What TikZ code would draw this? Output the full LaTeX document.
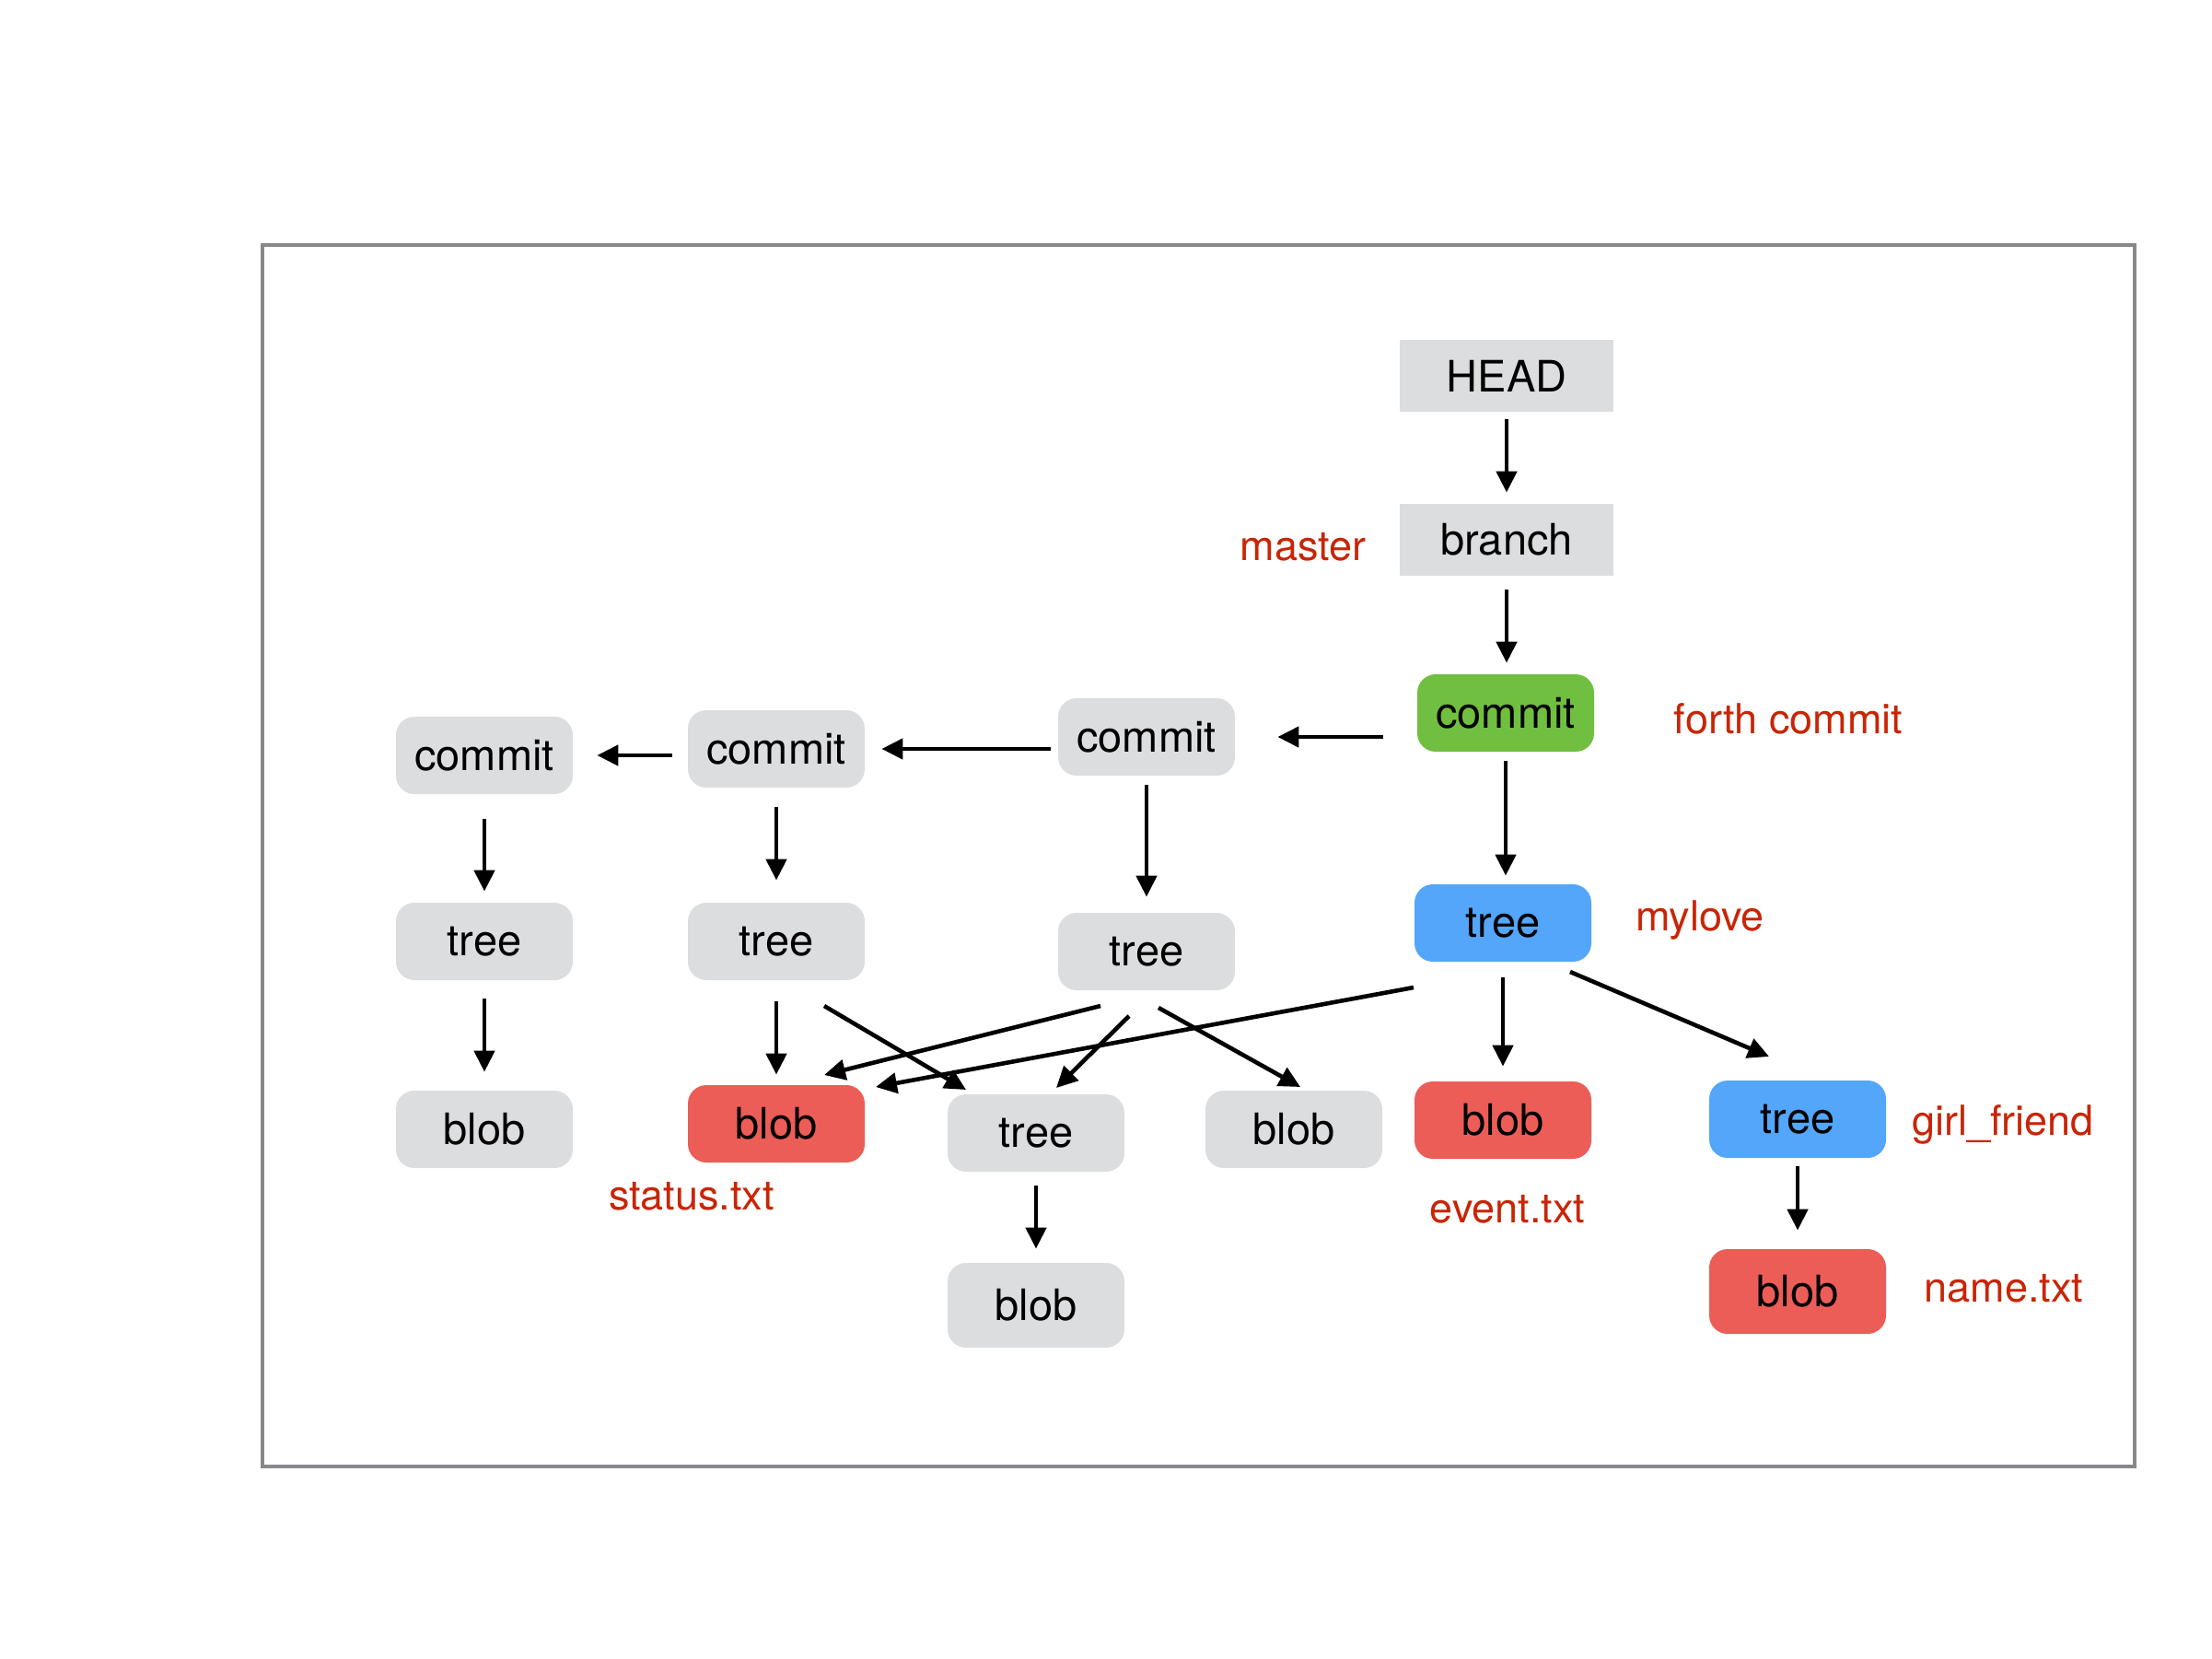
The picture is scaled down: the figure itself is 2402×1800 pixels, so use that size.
\documentclass[tikz,border=0pt]{standalone}
\usepackage{fontspec}
\setmainfont{TeX Gyre Heros}
\usetikzlibrary{calc,arrows.meta}
\definecolor{boxgray}{HTML}{DCDDDF}
\definecolor{boxgreen}{HTML}{70BF41}
\definecolor{boxblue}{HTML}{53A6F9}
\definecolor{boxred}{HTML}{EC5D57}
\definecolor{labred}{HTML}{C82506}
\definecolor{framegray}{HTML}{88888C}
\begin{document}
\begin{tikzpicture}[x=0.5pt,y=-0.5pt,
  obj/.style={rectangle, rounded corners=10pt, minimum width=96pt, minimum height=42pt,
    inner sep=0pt, text=black, font=\fontsize{23.5}{28}\selectfont},
  plainbox/.style={obj, fill=boxgray},
  greenbox/.style={obj, fill=boxgreen},
  bluebox/.style={obj, fill=boxblue},
  redbox/.style={obj, fill=boxred},
  refbox/.style={rectangle, fill=boxgray, minimum width=116pt, minimum height=39pt,
    inner sep=0pt, text=black, font=\fontsize{23.5}{28}\selectfont},
  lab/.style={anchor=base, inner sep=0pt, text=labred, font=\fontsize{22.5}{27}\selectfont},
  arr/.style={-{Triangle[length=11.5pt,width=11pt]}, line width=2.3pt},
]
\useasboundingbox (0,0) rectangle (2402,1800);
\draw[framegray, line width=2pt] (285,266) rectangle (2318,1592);

% nodes
\node[refbox] (head) at (1636,408) {HEAD};
\node[refbox] (branch) at (1636,586) {branch};
\node[greenbox] (c4) at (1635,774) {commit};
\node[plainbox] (c3) at (1245,800) {commit};
\node[plainbox] (c2) at (843,813) {commit};
\node[plainbox] (c1) at (526,820) {commit};
\node[plainbox] (t1) at (526,1022) {tree};
\node[plainbox] (t2) at (843,1022) {tree};
\node[plainbox] (t3) at (1245,1033) {tree};
\node[bluebox] (t4) at (1632,1002) {tree};
\node[plainbox] (b1) at (526,1226) {blob};
\node[redbox] (bs) at (843,1220) {blob};
\node[plainbox] (tsub) at (1125,1230) {tree};
\node[plainbox] (bg) at (1405,1226) {blob};
\node[redbox] (be) at (1632,1216) {blob};
\node[bluebox] (tg) at (1952,1215) {tree};
\node[redbox, minimum height=46pt] (bn) at (1952,1402) {blob};
\node[plainbox, minimum height=46pt] (bsub) at (1125,1417) {blob};

% labels
\node[lab] (lmaster) at (1415,608) {master};
\node[lab] (lforth) at (1942,796) {forth commit};
\node[lab] (lmylove) at (1846,1010) {mylove};
\node[lab] (lgirl) at (2175,1232) {girl\_friend};
\node[lab] (lname) at (2176,1413) {name.txt};
\node[lab] (levent) at (1637,1327) {event.txt};
\node[lab] (lstatus) at (751,1313) {status.txt};

% vertical / horizontal connectors
\draw[arr, shorten <=4pt, shorten >=6pt] (head.south) -- (branch.north);
\draw[arr, shorten <=7.5pt, shorten >=6pt] (branch.south) -- (branch.south |- c4.north);
\draw[arr, shorten <=18.5pt, shorten >=23pt] (c4.west |- c3.east) -- (c3.east);
\draw[arr, shorten <=4pt, shorten >=9pt] (c3.west |- c2.east) -- (c2.east);
\draw[arr, shorten <=8.5pt, shorten >=13pt] (c2.west |- c1.east) -- (c1.east);
\draw[arr, shorten <=13.5pt, shorten >=6pt] (c1.south) -- (t1.north);
\draw[arr, shorten <=10pt, shorten >=10pt] (t1.south) -- (b1.north);
\draw[arr, shorten <=10.5pt, shorten >=12pt] (c2.south) -- (t2.north);
\draw[arr, shorten <=11.5pt, shorten >=5.5pt] (t2.south) -- (bs.north);
\draw[arr, shorten <=5pt, shorten >=8.5pt] (c3.south) -- (t3.north);
\draw[arr, shorten <=5pt, shorten >=4.5pt] (c4.south) -- (c4.south |- t4.north);
\draw[arr, shorten <=8.5pt, shorten >=8pt] (t4.south) -- (be.north);
\draw[arr, shorten <=4.5pt, shorten >=10pt] (tg.south) -- (bn.north);
\draw[arr, shorten <=7.5pt, shorten >=7.5pt] (tsub.south) -- (bsub.north);

% diagonal connectors
\draw[arr] ($(t2)+(52,70)$) -- ($(tsub)+(-76,-47)$);
\draw[arr] ($(t3)+(-50,59)$) -- ($(bs)+(52,-53)$);
\draw[arr] ($(t3)+(-19,70)$) -- ($(tsub)+(22,-49)$);
\draw[arr] ($(t3)+(13,61)$) -- ($(bg)+(7,-46)$);
\draw[arr] ($(t4)+(-97,70)$) -- ($(bs)+(108,-40)$);
\draw[arr] ($(t4)+(73,53)$) -- ($(tg)+(-31,-68)$);
\end{tikzpicture}
\end{document}
